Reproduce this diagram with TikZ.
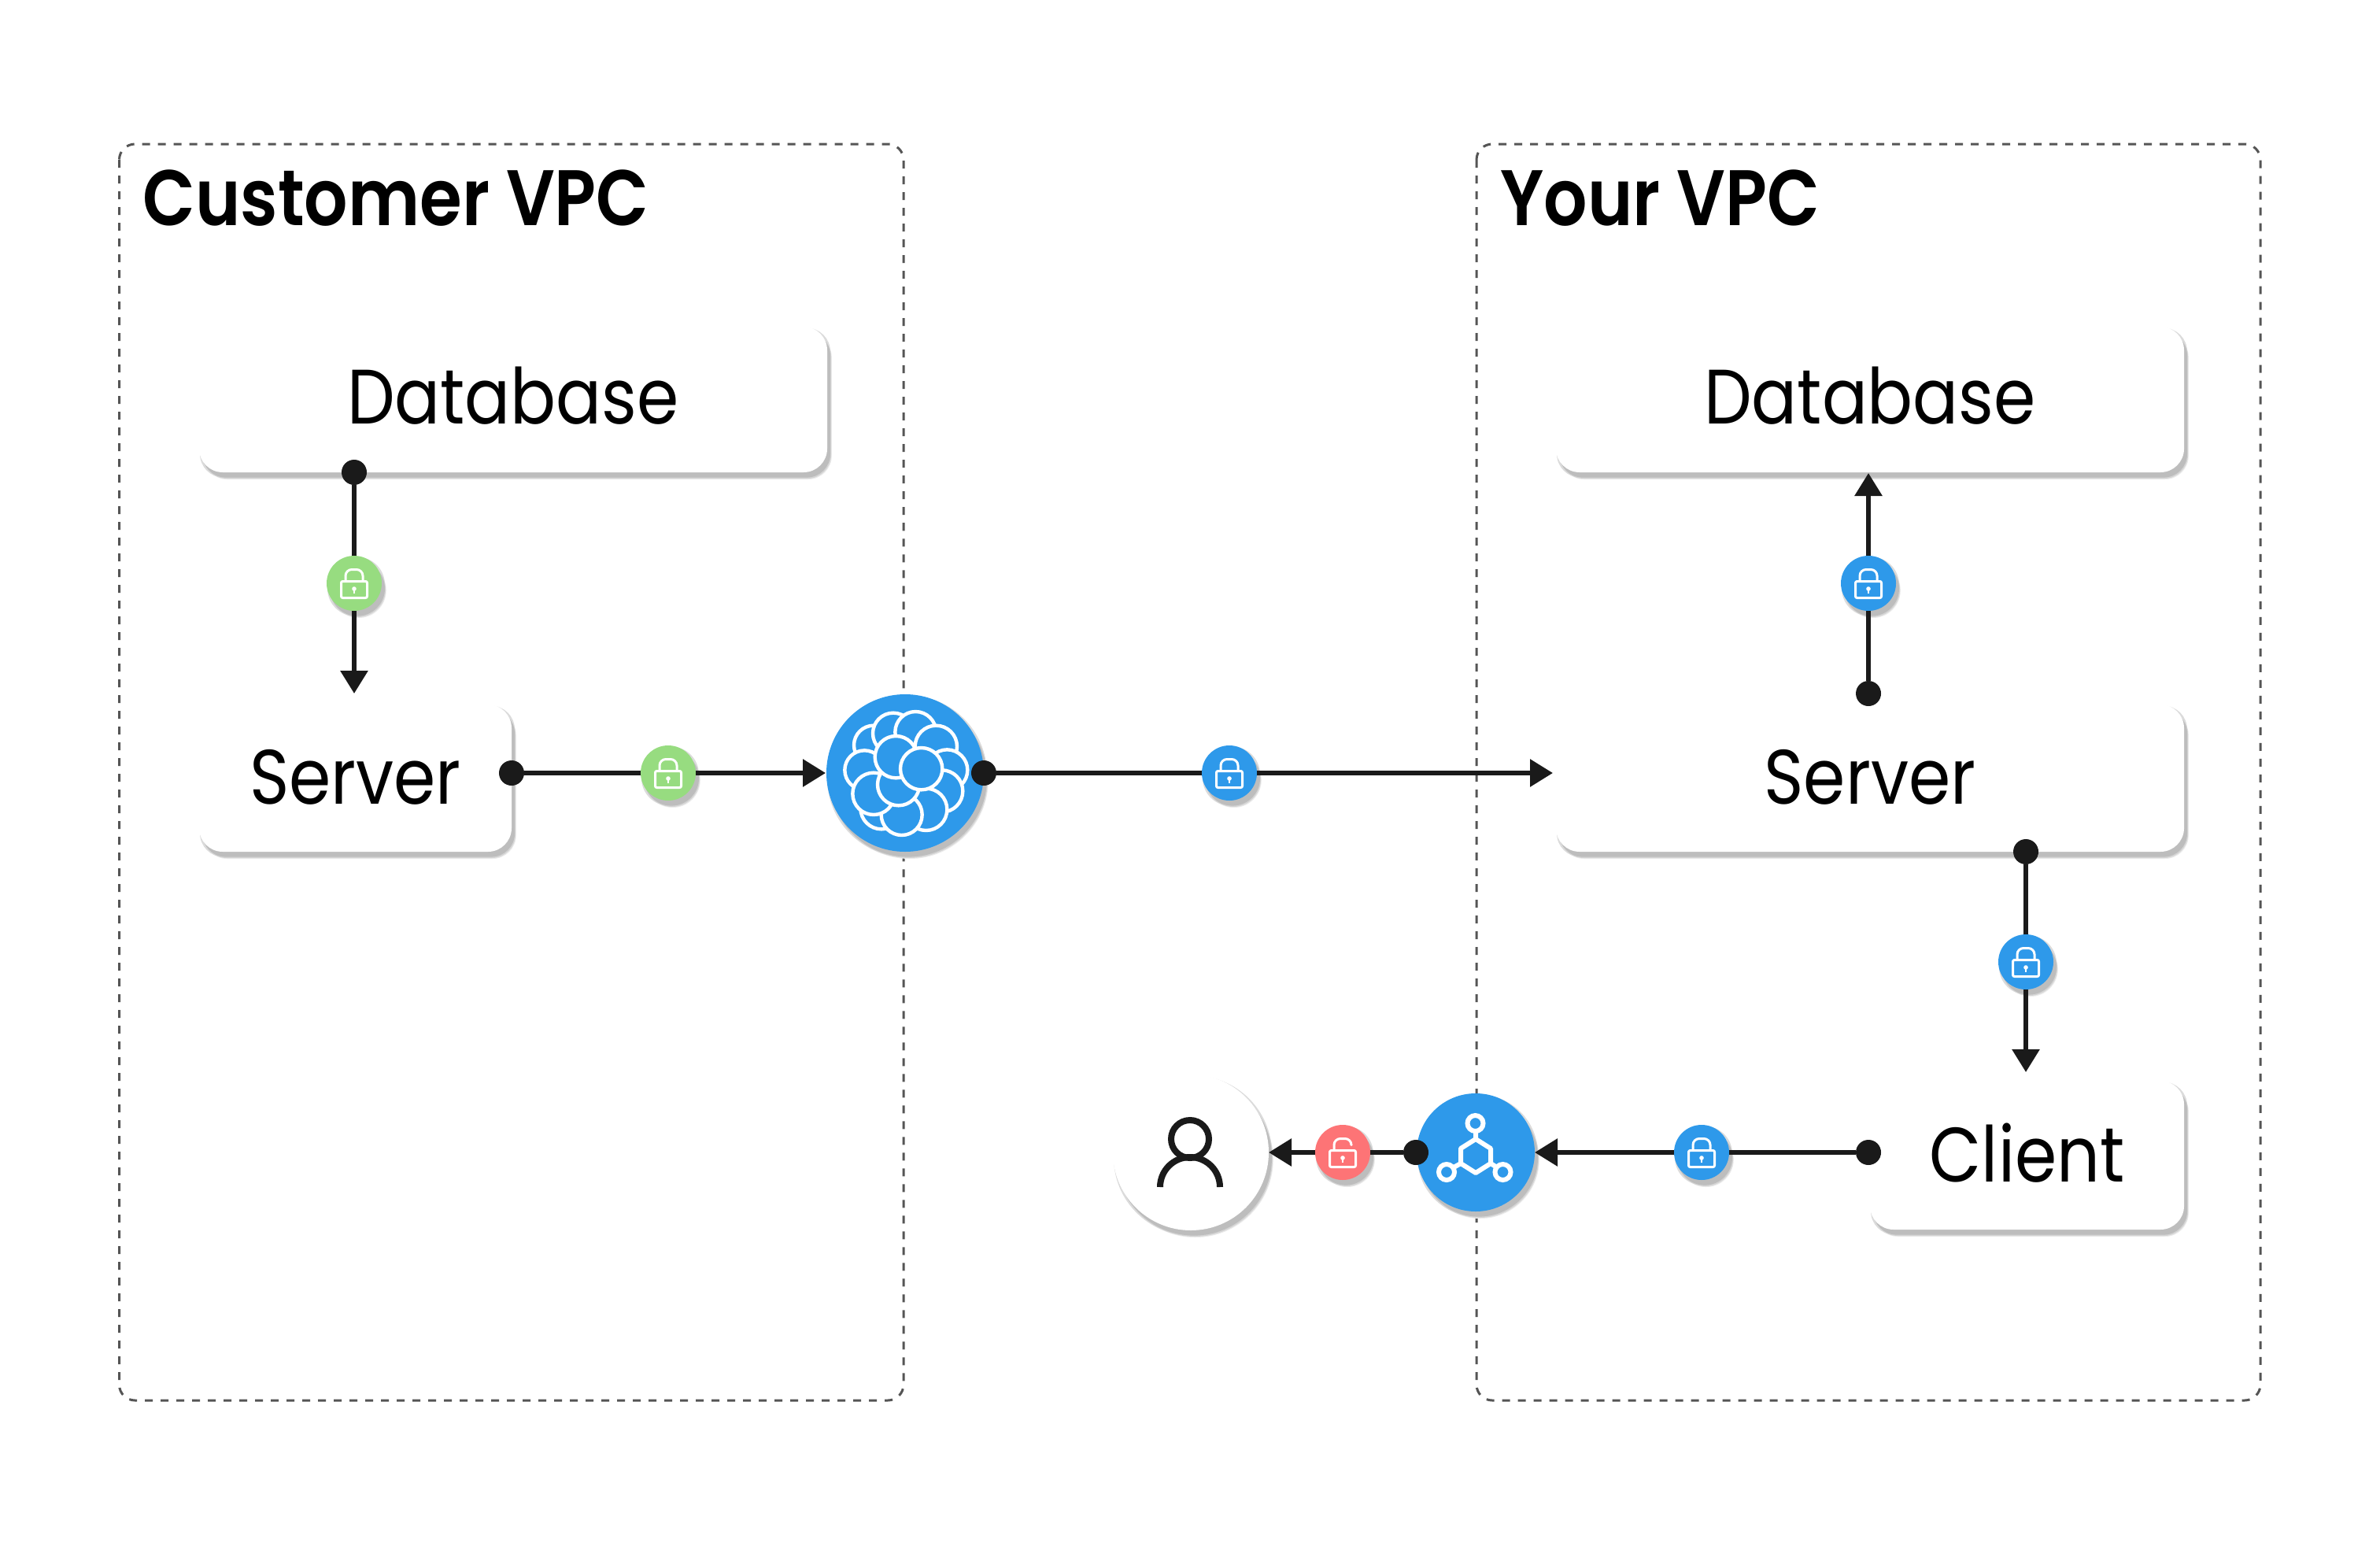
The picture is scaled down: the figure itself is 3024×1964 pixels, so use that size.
\documentclass[tikz,border=0pt]{standalone}
\usepackage{fontspec}
\setmainfont[FakeStretch=0.875]{Poppins}
\newfontfamily\titlefont[FakeStretch=0.87]{Poppins SemiBold}
\usetikzlibrary{arrows.meta,shadows}
\definecolor{inkc}{HTML}{1A1A1A}
\definecolor{framec}{HTML}{555555}
\definecolor{bluec}{HTML}{2E99EA}
\definecolor{greenc}{HTML}{97DC80}
\definecolor{redc}{HTML}{FD7476}
\tikzset{
  x=0.5pt,y=-0.5pt,
  softshadow/.style={
    drop shadow={shadow xshift=2.9pt,shadow yshift=-4.5pt,fill=black!8,opacity=1},
    drop shadow={shadow xshift=2pt,shadow yshift=-0.8pt,fill=black!14,opacity=1},
    drop shadow={shadow xshift=0.5pt,shadow yshift=-3.3pt,fill=black!14,opacity=1},
    drop shadow={shadow xshift=2.5pt,shadow yshift=-4pt,fill=black!17,opacity=1},
    drop shadow={shadow xshift=2pt,shadow yshift=-3.3pt,fill=black!26,opacity=1}},
  frame/.style={draw=framec,line width=1.5pt,dash pattern=on 5pt off 5pt,rounded corners=10pt},
  title/.style={font=\fontsize{50pt}{56pt}\selectfont\titlefont,text=black,anchor=base west,inner sep=0pt},
  card/.style={fill=white,rounded corners=15pt,softshadow,inner sep=0pt},
  cardtext/.style={font=\fontsize{49pt}{56pt}\selectfont,text=black,anchor=base,inner sep=0pt},
  disc/.style={circle,inner sep=0pt,minimum size=#1*1pt,softshadow},
  lockdisc/.style={circle,fill=#1,inner sep=0pt,minimum size=35pt,softshadow},
  dot/.style={circle,fill=inkc,inner sep=0pt,minimum size=16pt},
  conn/.style={draw=inkc,line width=3pt},
  tipped/.style={conn,-{Triangle[length=14.5pt,width=17pt]}},
  iconline/.style={draw=white,line width=1.5pt,line join=round},
  lockicon/.pic={
    \draw[iconline,rounded corners=1pt] (-16.5,-2.5) rectangle (16.5,18.5);
    \draw[iconline,rounded corners=4pt] (-11,-2.5) -- (-11,-17.5) -- (11,-17.5) -- (11,-2.5);
    \fill[white] (0,7) circle (1.4pt);
    \fill[white] (-1,7) rectangle (1,13);
  },
  unlockicon/.pic={
    \draw[iconline,rounded corners=1pt] (-16.5,-2.5) rectangle (16.5,18.5);
    \draw[iconline,rounded corners=4pt] (-11,-2.5) -- (-11,-17.5) -- (11,-17.5) -- (11,-10);
    \fill[white] (0,7) circle (1.4pt);
    \fill[white] (-1,7) rectangle (1,13);
  },
}
\begin{document}
\begin{tikzpicture}
\path[use as bounding box,fill=white] (0,0) rectangle (3024,1964);

% frames
\draw[frame] (151.5,183) rectangle (1148,1779);
\draw[frame] (1876,183) rectangle (2872,1779);
\node[title] (custtitle) at (181,286) {Customer VPC};
\node[title] (yourtitle) at (1906,286) {Your VPC};

% cards
\node[card,minimum width=399pt,minimum height=92.5pt] (db1) at (652,507.5) {};
\node[cardtext] (db1t) at (652,538) {Database};
\node[card,minimum width=198.5pt,minimum height=93.5pt] (srv1) at (451.5,988.5) {};
\node[cardtext] (srv1t) at (451.5,1021) {Server};
\node[card,minimum width=399pt,minimum height=92.5pt] (db2) at (2376,507.5) {};
\node[cardtext] (db2t) at (2376,538) {Database};
\node[card,minimum width=399pt,minimum height=93.5pt] (srv2) at (2376,988.5) {};
\node[cardtext] (srv2t) at (2376,1021) {Server};
\node[card,minimum width=199.5pt,minimum height=94.5pt] (client) at (2575.5,1467.5) {};
\node[cardtext] (clientt) at (2575.5,1501) {Client};

% round nodes
\node[disc=100,fill=bluec] (mesh) at (1150,982) {};
\node[disc=75,fill=bluec] (hub) at (1875,1464) {};
\node[disc=99,fill=white] (user) at (1513,1464) {};

% dots and free ends
\node[dot] (d1) at (450,600) {};
\coordinate (t1) at (450,881);
\node[dot] (d2) at (650,982) {};
\coordinate (t2) at (1049,982);
\node[dot] (d3) at (1250,982) {};
\coordinate (t3) at (1973,982);
\node[dot] (d4) at (2374,881) {};
\coordinate (t4) at (2374,601);
\node[dot] (d5) at (2574,1082) {};
\coordinate (t5) at (2574,1362);
\node[dot] (d6) at (2374,1464) {};
\coordinate (t6) at (1950,1464);
\node[dot] (d7) at (1799,1464) {};
\coordinate (t7) at (1612,1464);

% lock discs
\node[lockdisc=greenc] (l1) at (450,741) {};
\node[lockdisc=greenc] (l2) at (849,982) {};
\node[lockdisc=bluec] (l3) at (1562,982) {};
\node[lockdisc=bluec] (l4) at (2374,741) {};
\node[lockdisc=bluec] (l5) at (2574,1222) {};
\node[lockdisc=bluec] (l6) at (2162,1464) {};
\node[lockdisc=redc] (l7) at (1706,1464) {};

% connectors
\draw[conn] (d1) -- (l1); \draw[tipped] (l1) -- (t1);
\draw[conn] (d2) -- (l2); \draw[tipped] (l2) -- (t2);
\draw[conn] (d3) -- (l3); \draw[tipped] (l3) -- (t3);
\draw[conn] (d4) -- (l4); \draw[tipped] (l4) -- (t4);
\draw[conn] (d5) -- (l5); \draw[tipped] (l5) -- (t5);
\draw[conn] (d6) -- (l6); \draw[tipped] (l6) -- (t6);
\draw[conn] (d7) -- (l7); \draw[tipped] (l7) -- (t7);

% lock icons
\pic at (l1) {lockicon};
\pic at (l2) {lockicon};
\pic at (l3) {lockicon};
\pic at (l4) {lockicon};
\pic at (l5) {lockicon};
\pic at (l6) {lockicon};
\pic at (l7) {unlockicon};

% mesh flower
\foreach \a/\b/\r in {330/320/75,405/275/78,490/270/78,568/325/80,610/415/78,590/495/80,530/565/80,360/560/80,437/585/78,295/415/75,330/505/80,425/470/80,415/365/80,512/410/80}{
  \draw[draw=white,fill=bluec,line width=2.2pt] ({1000+\a/3},{840+\b/3}) circle ({\r/6*1pt});
}

% hub icon
\draw[draw=white,line width=3pt,line join=round] (1875,1447) -- (1894,1459) -- (1894,1478) -- (1875,1490) -- (1856,1478) -- (1856,1459) -- cycle;
\draw[draw=white,line width=3pt] (1875,1437) -- (1875,1447) (1894,1478) -- (1902,1483) (1856,1478) -- (1847,1483);
\draw[draw=white,line width=3pt] (1874.5,1427) circle (5pt) (1838,1489) circle (5pt) (1909.5,1489) circle (5pt);

% user icon
\draw[draw=inkc,line width=4pt] (1512,1447) circle (12pt);
\draw[draw=inkc,line width=4pt] (1474,1508) arc[start angle=180,end angle=0,radius=19pt];
\end{tikzpicture}
\end{document}
